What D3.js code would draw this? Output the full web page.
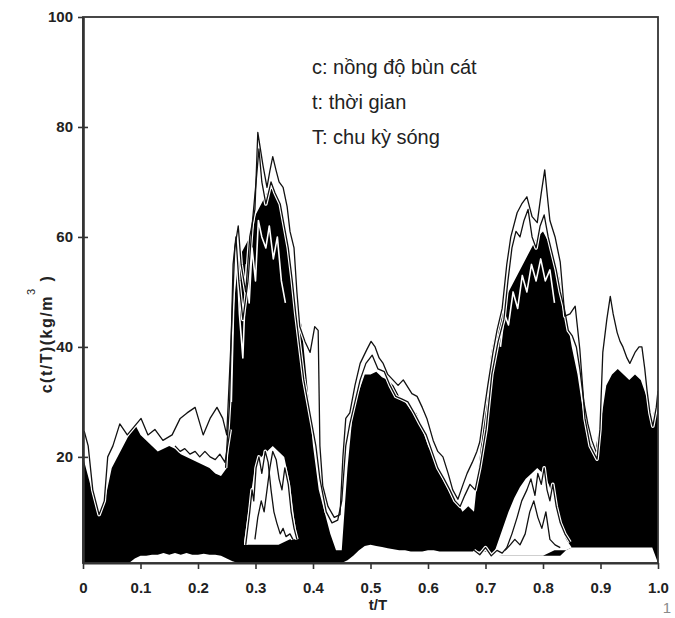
<!DOCTYPE html>
<html>
<head>
<meta charset="utf-8">
<script src="https://cdn.jsdelivr.net/npm/d3@7"></script>
<style>
  body { margin: 0; background: #fff; }
  svg { display: block; font-family: "Liberation Sans", Arial, sans-serif; }
</style>
</head>
<body>
<div id="chart"></div>
<script>
// axis ticks
const xTicks = [0, 0.1, 0.2, 0.3, 0.4, 0.5, 0.6, 0.7, 0.8, 0.9, 1.0];
const xTickLabels = ["0", "0.1", "0.2", "0.3", "0.4", "0.5", "0.6", "0.7", "0.8", "0.9", "1.0"];
const yTicks = [20, 40, 60, 80, 100];

const legendLines = ["c: nồng độ bùn cát", "t: thời gian", "T: chu kỳ sóng"];

// black band of the overlapping records: [t/T, bottom c, top c]
const band = [
  [0.00, 0.7, 20], [0.01, 0.7, 16], [0.02, 0.7, 12], [0.03, 0.7, 10], [0.04, 0.7, 13],
  [0.05, 0.7, 18], [0.06, 0.7, 20], [0.07, 0.7, 22], [0.08, 0.7, 24], [0.09, 1.5, 26],
  [0.10, 2, 24], [0.11, 2, 23], [0.12, 2.2, 22], [0.13, 2.2, 21], [0.14, 2.5, 21.5],
  [0.15, 2.2, 22], [0.16, 2.5, 21.5], [0.17, 2.2, 20.5], [0.18, 2.5, 20], [0.19, 2.2, 19.5],
  [0.20, 2.2, 19], [0.21, 2.4, 18.5], [0.22, 2.2, 18], [0.23, 2.2, 17], [0.24, 2, 16.5],
  [0.25, 1.5, 18], [0.26, 1, 45], [0.27, 0.7, 56], [0.28, 0.7, 58], [0.29, 0.7, 60],
  [0.30, 0.7, 64], [0.31, 0.7, 66], [0.32, 0.7, 68], [0.33, 0.7, 69], [0.34, 0.7, 67],
  [0.35, 0.7, 62], [0.36, 0.7, 55], [0.37, 0.7, 48], [0.38, 0.7, 44], [0.39, 0.7, 33],
  [0.40, 0.7, 22], [0.41, 0.7, 14], [0.42, 0.7, 10], [0.43, 0.7, 6], [0.44, 0.7, 3],
  [0.45, 0.7, 3], [0.46, 1.2, 18], [0.47, 2, 29], [0.48, 3, 32], [0.49, 3.8, 35],
  [0.50, 4, 35], [0.51, 3.8, 35.5], [0.52, 3.6, 34.5], [0.53, 3.4, 34], [0.54, 3.2, 33],
  [0.55, 3, 31], [0.56, 3, 30], [0.57, 2.8, 28.5], [0.58, 2.8, 28], [0.59, 2.8, 25],
  [0.60, 3, 22], [0.61, 3, 20], [0.62, 2.8, 17], [0.63, 2.8, 15], [0.64, 2.8, 13],
  [0.65, 2.8, 12], [0.66, 2.8, 10], [0.67, 2.8, 11], [0.68, 2.8, 10], [0.69, 2.8, 20],
  [0.70, 2.8, 30], [0.71, 2.5, 39], [0.72, 2.2, 44], [0.73, 2, 48], [0.74, 2, 50],
  [0.75, 2, 52], [0.76, 2, 54], [0.77, 2, 56], [0.78, 2, 58], [0.79, 2, 60],
  [0.80, 2, 61], [0.81, 2, 59], [0.82, 2, 56], [0.83, 2, 52], [0.84, 3, 46],
  [0.85, 3.5, 40], [0.86, 3.5, 35], [0.87, 3.5, 28], [0.88, 3.5, 24], [0.89, 3.5, 21],
  [0.90, 3.5, 26], [0.91, 3.5, 33], [0.92, 3.5, 35], [0.93, 3.5, 36], [0.94, 3.5, 35],
  [0.95, 3.5, 34], [0.96, 3.5, 35], [0.97, 3.5, 34], [0.98, 3.5, 31], [0.99, 3.5, 27],
  [1.00, 0.7, 31]
];

// white gaps under the two peaks: [t/T, low c, high c]
const hole1 = [
  [0.280, 4, 4.5], [0.29, 4, 12], [0.299, 4, 18], [0.31, 4, 20], [0.32, 4, 21],
  [0.33, 4, 22], [0.34, 4, 21], [0.35, 4.5, 20], [0.36, 5, 15], [0.367, 5, 9], [0.373, 5, 5]
];
const hole2 = [
  [0.715, 2, 2.5], [0.73, 2, 7], [0.74, 2, 10], [0.75, 2, 12.5], [0.76, 2, 14.5],
  [0.77, 2, 16], [0.78, 2, 17], [0.79, 2, 18], [0.80, 2, 17], [0.81, 2.5, 15],
  [0.82, 3, 12], [0.83, 3, 8], [0.84, 3, 5], [0.85, 3.5, 3.5]
];

// individual records that stick out of the band: [t/T, c]
const recA = [
  [0.002, 24.7], [0.009, 22], [0.017, 14], [0.028, 9.5], [0.037, 12], [0.043, 20], [0.052, 22],
  [0.064, 26], [0.077, 24], [0.089, 25.5], [0.101, 27], [0.113, 24], [0.125, 25], [0.139, 23],
  [0.155, 24], [0.169, 27], [0.181, 28], [0.195, 29], [0.209, 24], [0.221, 27], [0.233, 29],
  [0.243, 27], [0.250, 24], [0.257, 40], [0.264, 58], [0.270, 62], [0.275, 55], [0.283, 50],
  [0.290, 60], [0.299, 65], [0.304, 79], [0.310, 75], [0.313, 73], [0.320, 69], [0.325, 72],
  [0.330, 74.6], [0.336, 72], [0.341, 70], [0.348, 69], [0.355, 65.5], [0.360, 61], [0.367, 58],
  [0.372, 50], [0.377, 43.7], [0.386, 41], [0.395, 39], [0.403, 43.7], [0.409, 43], [0.412, 22],
  [0.417, 14.7], [0.426, 11], [0.437, 9], [0.447, 9.5], [0.452, 20], [0.457, 27], [0.464, 28],
  [0.473, 33], [0.482, 37], [0.494, 39.6], [0.501, 41], [0.508, 40], [0.515, 38], [0.522, 37],
  [0.530, 35], [0.539, 34], [0.548, 33], [0.557, 34], [0.563, 33], [0.572, 31.5], [0.581, 31],
  [0.590, 29], [0.598, 27], [0.609, 23], [0.617, 21], [0.626, 20], [0.635, 17], [0.643, 14],
  [0.652, 12.3], [0.661, 15], [0.668, 17], [0.677, 19], [0.685, 21], [0.690, 22.7], [0.697, 28],
  [0.704, 33], [0.713, 39], [0.720, 43], [0.729, 47], [0.737, 55], [0.744, 60], [0.755, 64.4],
  [0.763, 66], [0.772, 67.3], [0.781, 63.7], [0.790, 62.6], [0.797, 68], [0.803, 72.2],
  [0.809, 66], [0.812, 63], [0.821, 60], [0.830, 55.4], [0.838, 45.6], [0.847, 46], [0.856, 47.4],
  [0.864, 39.6], [0.873, 27], [0.882, 22], [0.894, 19.6], [0.899, 25], [0.904, 39], [0.911, 45],
  [0.917, 49.2], [0.922, 46], [0.929, 42.6], [0.934, 41], [0.939, 40], [0.946, 38], [0.951, 37],
  [0.960, 39], [0.967, 40], [0.972, 40], [0.977, 36], [0.981, 32], [0.986, 28], [0.991, 25.6],
  [0.997, 29], [1.0, 32]
];
const recB = [
  [0.248, 18], [0.255, 30], [0.261, 55], [0.266, 60], [0.271, 52], [0.278, 45], [0.287, 52],
  [0.294, 62], [0.301, 70], [0.306, 76], [0.311, 70], [0.318, 66], [0.327, 70], [0.334, 68],
  [0.343, 66], [0.350, 62], [0.357, 58], [0.364, 52], [0.370, 46], [0.377, 40], [0.384, 34],
  [0.391, 30], [0.398, 26], [0.405, 22], [0.412, 16], [0.423, 10], [0.433, 8], [0.443, 8.5],
  [0.450, 12], [0.457, 22], [0.464, 26], [0.473, 30], [0.482, 34], [0.492, 37], [0.503, 38.5],
  [0.513, 36], [0.524, 35.5], [0.534, 33], [0.544, 31], [0.555, 30.5], [0.565, 30], [0.576, 28],
  [0.586, 26], [0.597, 24], [0.607, 21], [0.617, 18], [0.628, 16], [0.638, 14], [0.647, 12],
  [0.656, 11], [0.664, 13], [0.673, 15], [0.682, 14], [0.690, 18], [0.701, 25], [0.711, 35],
  [0.722, 41], [0.732, 45], [0.739, 52], [0.746, 58], [0.753, 61], [0.760, 60], [0.767, 63],
  [0.774, 65], [0.781, 60], [0.788, 58], [0.795, 62], [0.802, 64], [0.809, 60], [0.816, 57],
  [0.823, 54], [0.830, 50], [0.837, 47], [0.844, 43], [0.851, 42], [0.858, 40], [0.864, 36],
  [0.871, 30], [0.878, 26], [0.885, 23], [0.892, 21]
];
const recC = [
  [0.160, 22], [0.169, 21], [0.177, 21.5], [0.186, 20.5], [0.195, 21], [0.203, 20], [0.212, 21],
  [0.221, 20], [0.230, 19.5], [0.238, 20.5], [0.247, 19], [0.256, 25]
];
const recD = [
  [0.283, 4], [0.290, 10], [0.294, 14], [0.297, 12], [0.301, 18], [0.306, 20], [0.311, 17],
  [0.317, 21], [0.322, 19], [0.327, 14], [0.332, 10], [0.337, 8], [0.343, 6], [0.348, 7],
  [0.353, 5.5], [0.360, 6], [0.365, 5]
];
const recE = [
  [0.299, 5], [0.304, 9], [0.310, 12], [0.315, 10], [0.320, 14], [0.325, 18], [0.330, 21],
  [0.336, 19.5], [0.341, 16], [0.346, 14], [0.351, 18], [0.357, 15], [0.362, 10], [0.367, 7],
  [0.372, 5]
];
const recF = [
  [0.68, 3], [0.69, 2.2], [0.70, 3.5], [0.71, 2], [0.720, 3], [0.729, 2.5], [0.737, 3.5],
  [0.746, 6], [0.755, 9], [0.763, 12], [0.772, 14], [0.779, 16], [0.786, 13], [0.791, 17],
  [0.797, 15], [0.802, 18], [0.807, 14], [0.812, 12], [0.817, 15], [0.823, 11], [0.830, 8],
  [0.838, 6], [0.847, 4.5]
];
const recG = [
  [0.734, 3], [0.743, 4], [0.751, 5], [0.760, 4], [0.769, 6], [0.777, 10], [0.784, 12],
  [0.791, 9], [0.798, 7], [0.805, 10], [0.812, 5], [0.821, 4], [0.830, 3.5]
];
// records running inside the two peaks
const recH = [
  [0.258, 30], [0.263, 52], [0.267, 58], [0.272, 46], [0.278, 38], [0.284, 55], [0.289, 48],
  [0.294, 58], [0.300, 52], [0.305, 63], [0.311, 60], [0.318, 58], [0.324, 62], [0.331, 56],
  [0.338, 60], [0.345, 52], [0.352, 48]
];
const recI = [
  [0.726, 40], [0.733, 46], [0.740, 44], [0.748, 50], [0.756, 47], [0.764, 53], [0.772, 50],
  [0.780, 55], [0.788, 52], [0.796, 56], [0.804, 52], [0.812, 54], [0.820, 48]
];
const records = [recH, recI, recA, recB, recC, recD, recE, recF, recG];

const W = 675, H = 618;
const x = d3.scaleLinear().domain([0, 1]).range([83, 658]);
const y = d3.scaleLinear().domain([0.7, 100]).range([563, 17]);

const svg = d3.select("#chart").append("svg")
    .attr("width", W)
    .attr("height", H);

svg.append("defs").append("clipPath").attr("id", "plot-clip")
  .append("rect")
    .attr("x", x(0)).attr("y", y(100))
    .attr("width", x(1) - x(0)).attr("height", y(0.7) - y(100));

const plot = svg.append("g").attr("clip-path", "url(#plot-clip)");

const bandArea = d3.area()
    .x(d => x(d[0]))
    .y0(d => y(d[1]))
    .y1(d => y(d[2]));

plot.append("path").datum(band)
    .attr("d", bandArea)
    .attr("fill", "#000");

plot.selectAll(".hole")
  .data([hole1, hole2])
  .enter().append("path")
    .attr("class", "hole")
    .attr("d", bandArea)
    .attr("fill", "#fff");

const recLine = d3.line()
    .x(d => x(d[0]))
    .y(d => y(d[1]));

// white halo under each record so it reads against the band
plot.selectAll(".halo")
  .data(records)
  .enter().append("path")
    .attr("class", "halo")
    .attr("d", recLine)
    .attr("fill", "none")
    .attr("stroke", "#fff")
    .attr("stroke-width", (d, i) => i < 2 ? 1.6 : 3.6)
    .attr("stroke-linejoin", "round");

plot.selectAll(".rec")
  .data(records)
  .enter().append("path")
    .attr("class", "rec")
    .attr("d", recLine)
    .attr("fill", "none")
    .attr("stroke", "#111")
    .attr("stroke-width", (d, i) => i < 2 ? 0 : 1.3)
    .attr("stroke-linejoin", "round");

// frame
svg.append("rect")
    .attr("x", x(0)).attr("y", y(100))
    .attr("width", x(1) - x(0)).attr("height", y(0.7) - y(100))
    .attr("fill", "none")
    .attr("stroke", "#333")
    .attr("stroke-width", 1.8);

// x axis
const xAxis = svg.append("g")
    .attr("transform", `translate(0,${y(0.7)})`)
    .call(d3.axisBottom(x)
        .tickValues(xTicks)
        .tickFormat((d, i) => xTickLabels[i])
        .tickSize(6)
        .tickSizeOuter(0)
        .tickPadding(13));
xAxis.select(".domain").attr("stroke", "#333").attr("stroke-width", 2.2);
xAxis.selectAll(".tick line").attr("stroke", "#333").attr("stroke-width", 1.6);
xAxis.selectAll(".tick text")
    .attr("fill", "#222")
    .style("font-size", "15px")
    .style("font-weight", "bold")
    .style("font-family", "'Liberation Sans', Arial, sans-serif");

// y axis, ticks cross the line
const yAxis = svg.append("g")
    .attr("transform", `translate(${x(0)},0)`)
    .call(d3.axisLeft(y)
        .tickValues(yTicks)
        .tickSize(5)
        .tickSizeOuter(0)
        .tickPadding(5));
yAxis.select(".domain").attr("stroke", "#333").attr("stroke-width", 2.6);
yAxis.selectAll(".tick line")
    .attr("x2", -5).attr("x1", d => d === 100 ? 0 : 5)
    .attr("stroke", "#333").attr("stroke-width", 1.6);
yAxis.selectAll(".tick text")
    .attr("fill", "#222")
    .style("font-size", "15px")
    .style("font-weight", "bold")
    .style("font-family", "'Liberation Sans', Arial, sans-serif");

// axis titles
svg.append("text")
    .attr("x", 378).attr("y", 610)
    .attr("text-anchor", "middle")
    .attr("fill", "#222")
    .style("font-size", "15px")
    .style("font-weight", "bold")
    .text("t/T");

const yTitle = svg.append("text")
    .attr("transform", "translate(52,334) rotate(-90)")
    .attr("text-anchor", "middle")
    .attr("fill", "#222")
    .style("font-size", "16px")
    .style("font-weight", "bold")
    .style("letter-spacing", "1.5px");
yTitle.append("tspan").text("c(t/T)(kg/m");
yTitle.append("tspan").attr("dy", -17).style("font-size", "11px").style("font-weight", "normal").text("3");
yTitle.append("tspan").attr("dy", 17).text(" )");

// legend notes
svg.selectAll(".note")
  .data(legendLines)
  .enter().append("text")
    .attr("class", "note")
    .attr("x", 312)
    .attr("y", (d, i) => 74 + i * 35)
    .attr("fill", "#222")
    .style("font-size", "20px")
    .text(d => d);

// page number left in the scan
svg.append("text")
    .attr("x", 667).attr("y", 613)
    .attr("text-anchor", "middle")
    .attr("fill", "#8a8a8a")
    .style("font-size", "15px")
    .text("1");
</script>
</body>
</html>
